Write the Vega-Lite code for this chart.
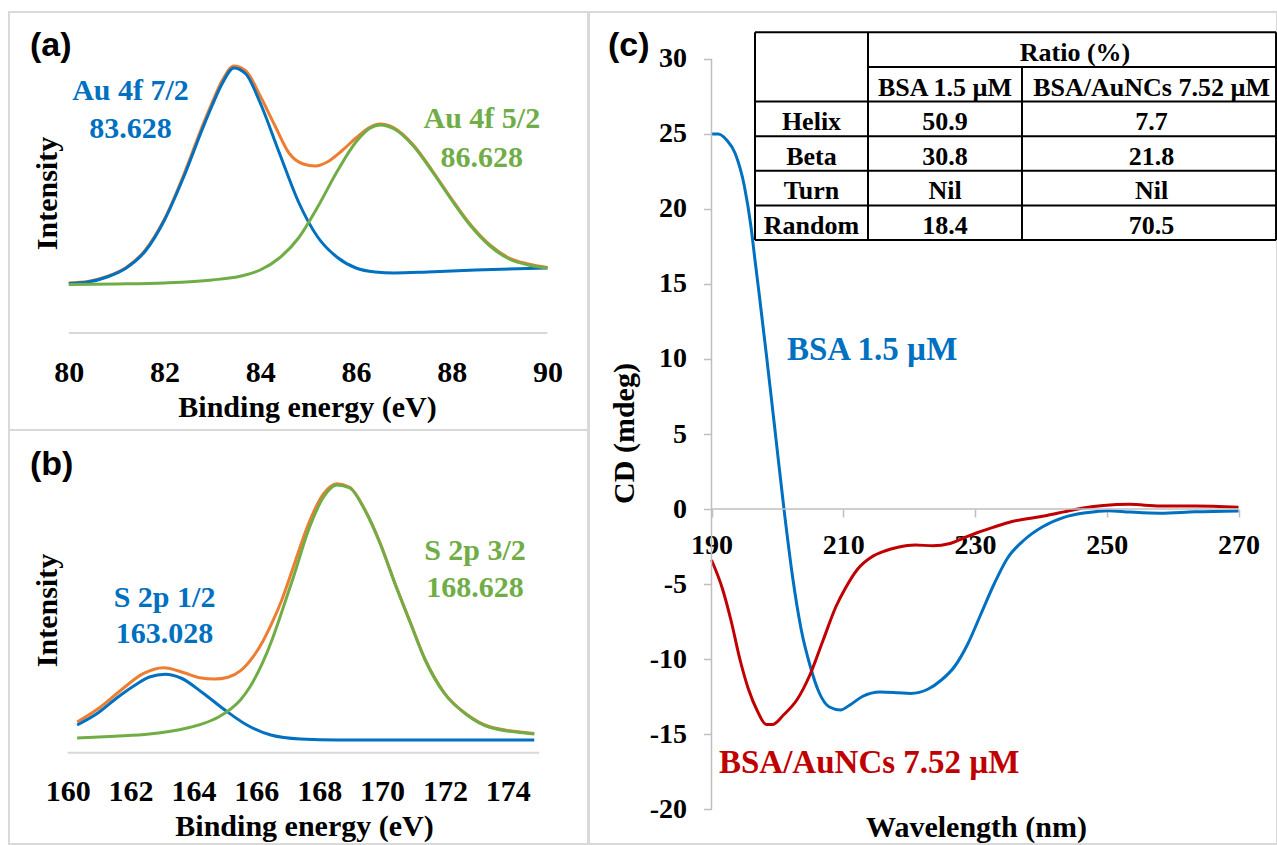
{
  "$schema": "https://vega.github.io/schema/vega-lite/v6.json",
  "background": "white",
  "padding": {"left": 8, "top": 11, "right": 0, "bottom": 0},
  "autosize": {"type": "pad"},
  "bounds": "full",
  "spacing": -2,
  "config": {
    "view": {"stroke": "#d9d9d9", "strokeWidth": 2},
    "axis": {"grid": false, "labelFont": "Liberation Serif, Times New Roman, Times, DejaVu Serif, serif", "labelFontWeight": "bold", "labelColor": "black", "titleFont": "Liberation Serif, Times New Roman, Times, DejaVu Serif, serif", "titleFontWeight": "bold", "titleColor": "black", "labelOverlap": false, "labelBound": false, "labelFlush": false},
    "text": {"font": "Liberation Serif, Times New Roman, Times, DejaVu Serif, serif", "fontWeight": "bold"}
  },
  "datasets": {
    "xpsA": [
      {"c": "env", "be": 80.0, "i": 500}, {"c": "env", "be": 80.4, "i": 515}, {"c": "env", "be": 80.8, "i": 565}, {"c": "env", "be": 81.2, "i": 655}, {"c": "env", "be": 81.6, "i": 830}, {"c": "env", "be": 82.0, "i": 1140}, {"c": "env", "be": 82.4, "i": 1580}, {"c": "env", "be": 82.8, "i": 2080}, {"c": "env", "be": 83.0, "i": 2310}, {"c": "env", "be": 83.2, "i": 2520}, {"c": "env", "be": 83.45, "i": 2670}, {"c": "env", "be": 83.7, "i": 2620}, {"c": "env", "be": 84.0, "i": 2370}, {"c": "env", "be": 84.3, "i": 2080}, {"c": "env", "be": 84.6, "i": 1800}, {"c": "env", "be": 84.9, "i": 1690}, {"c": "env", "be": 85.15, "i": 1670}, {"c": "env", "be": 85.4, "i": 1710}, {"c": "env", "be": 85.7, "i": 1820}, {"c": "env", "be": 86.0, "i": 1950}, {"c": "env", "be": 86.3, "i": 2060}, {"c": "env", "be": 86.5, "i": 2090}, {"c": "env", "be": 86.8, "i": 2050}, {"c": "env", "be": 87.2, "i": 1880}, {"c": "env", "be": 87.6, "i": 1620}, {"c": "env", "be": 88.0, "i": 1340}, {"c": "env", "be": 88.4, "i": 1080}, {"c": "env", "be": 88.8, "i": 880}, {"c": "env", "be": 89.2, "i": 750}, {"c": "env", "be": 89.6, "i": 690}, {"c": "env", "be": 90.0, "i": 655},
      {"c": "p1", "be": 80.0, "i": 495}, {"c": "p1", "be": 80.4, "i": 510}, {"c": "p1", "be": 80.8, "i": 560}, {"c": "p1", "be": 81.2, "i": 650}, {"c": "p1", "be": 81.6, "i": 820}, {"c": "p1", "be": 82.0, "i": 1130}, {"c": "p1", "be": 82.4, "i": 1560}, {"c": "p1", "be": 82.8, "i": 2050}, {"c": "p1", "be": 83.0, "i": 2280}, {"c": "p1", "be": 83.2, "i": 2490}, {"c": "p1", "be": 83.45, "i": 2650}, {"c": "p1", "be": 83.7, "i": 2590}, {"c": "p1", "be": 84.0, "i": 2300}, {"c": "p1", "be": 84.4, "i": 1800}, {"c": "p1", "be": 84.8, "i": 1310}, {"c": "p1", "be": 85.2, "i": 960}, {"c": "p1", "be": 85.6, "i": 760}, {"c": "p1", "be": 86.0, "i": 650}, {"c": "p1", "be": 86.4, "i": 610}, {"c": "p1", "be": 86.8, "i": 600}, {"c": "p1", "be": 87.5, "i": 610}, {"c": "p1", "be": 88.5, "i": 630}, {"c": "p1", "be": 90.0, "i": 650},
      {"c": "p2", "be": 80.0, "i": 485}, {"c": "p2", "be": 81.0, "i": 490}, {"c": "p2", "be": 82.0, "i": 500}, {"c": "p2", "be": 83.0, "i": 530}, {"c": "p2", "be": 83.6, "i": 570}, {"c": "p2", "be": 84.0, "i": 630}, {"c": "p2", "be": 84.4, "i": 750}, {"c": "p2", "be": 84.8, "i": 950}, {"c": "p2", "be": 85.2, "i": 1260}, {"c": "p2", "be": 85.6, "i": 1610}, {"c": "p2", "be": 86.0, "i": 1910}, {"c": "p2", "be": 86.3, "i": 2050}, {"c": "p2", "be": 86.5, "i": 2080}, {"c": "p2", "be": 86.8, "i": 2040}, {"c": "p2", "be": 87.2, "i": 1870}, {"c": "p2", "be": 87.6, "i": 1610}, {"c": "p2", "be": 88.0, "i": 1330}, {"c": "p2", "be": 88.4, "i": 1070}, {"c": "p2", "be": 88.8, "i": 870}, {"c": "p2", "be": 89.2, "i": 740}, {"c": "p2", "be": 89.6, "i": 680}, {"c": "p2", "be": 90.0, "i": 650}
    ],
    "xpsB": [
      {"c": "env", "be": 160.3, "i": 307}, {"c": "env", "be": 161.0, "i": 447}, {"c": "env", "be": 161.7, "i": 627}, {"c": "env", "be": 162.4, "i": 790}, {"c": "env", "be": 163.05, "i": 850}, {"c": "env", "be": 163.7, "i": 800}, {"c": "env", "be": 164.2, "i": 750}, {"c": "env", "be": 164.67, "i": 737}, {"c": "env", "be": 165.1, "i": 755}, {"c": "env", "be": 165.5, "i": 820}, {"c": "env", "be": 165.9, "i": 960}, {"c": "env", "be": 166.2, "i": 1110}, {"c": "env", "be": 166.5, "i": 1300}, {"c": "env", "be": 166.8, "i": 1520}, {"c": "env", "be": 167.18, "i": 1860}, {"c": "env", "be": 167.66, "i": 2290}, {"c": "env", "be": 168.14, "i": 2590}, {"c": "env", "be": 168.56, "i": 2690}, {"c": "env", "be": 168.97, "i": 2655}, {"c": "env", "be": 169.45, "i": 2432}, {"c": "env", "be": 169.93, "i": 2102}, {"c": "env", "be": 170.4, "i": 1702}, {"c": "env", "be": 170.9, "i": 1302}, {"c": "env", "be": 171.37, "i": 932}, {"c": "env", "be": 171.97, "i": 602}, {"c": "env", "be": 172.7, "i": 382}, {"c": "env", "be": 173.4, "i": 262}, {"c": "env", "be": 174.84, "i": 192},
      {"c": "p1", "be": 160.3, "i": 277}, {"c": "p1", "be": 160.96, "i": 397}, {"c": "p1", "be": 161.56, "i": 547}, {"c": "p1", "be": 162.15, "i": 677}, {"c": "p1", "be": 162.6, "i": 757}, {"c": "p1", "be": 163.1, "i": 784}, {"c": "p1", "be": 163.6, "i": 747}, {"c": "p1", "be": 164.3, "i": 597}, {"c": "p1", "be": 165.0, "i": 427}, {"c": "p1", "be": 165.7, "i": 277}, {"c": "p1", "be": 166.46, "i": 177}, {"c": "p1", "be": 167.4, "i": 137}, {"c": "p1", "be": 168.6, "i": 127}, {"c": "p1", "be": 171.0, "i": 127}, {"c": "p1", "be": 174.84, "i": 127},
      {"c": "p2", "be": 160.3, "i": 147}, {"c": "p2", "be": 161.5, "i": 165}, {"c": "p2", "be": 162.6, "i": 187}, {"c": "p2", "be": 163.8, "i": 247}, {"c": "p2", "be": 164.3, "i": 290}, {"c": "p2", "be": 164.8, "i": 357}, {"c": "p2", "be": 165.2, "i": 440}, {"c": "p2", "be": 165.5, "i": 530}, {"c": "p2", "be": 165.8, "i": 660}, {"c": "p2", "be": 166.2, "i": 900}, {"c": "p2", "be": 166.5, "i": 1130}, {"c": "p2", "be": 166.8, "i": 1400}, {"c": "p2", "be": 167.18, "i": 1757}, {"c": "p2", "be": 167.66, "i": 2227}, {"c": "p2", "be": 168.14, "i": 2557}, {"c": "p2", "be": 168.56, "i": 2677}, {"c": "p2", "be": 168.97, "i": 2647}, {"c": "p2", "be": 169.45, "i": 2427}, {"c": "p2", "be": 169.93, "i": 2097}, {"c": "p2", "be": 170.4, "i": 1697}, {"c": "p2", "be": 170.9, "i": 1297}, {"c": "p2", "be": 171.37, "i": 927}, {"c": "p2", "be": 171.97, "i": 597}, {"c": "p2", "be": 172.7, "i": 377}, {"c": "p2", "be": 173.4, "i": 257}, {"c": "p2", "be": 174.84, "i": 187}
    ],
    "cd": [
      {"s": "BSA 1.5 µM", "wl": 190, "cd": 25.0}, {"s": "BSA 1.5 µM", "wl": 191, "cd": 25.0}, {"s": "BSA 1.5 µM", "wl": 192.3, "cd": 24.6}, {"s": "BSA 1.5 µM", "wl": 193.6, "cd": 23.7}, {"s": "BSA 1.5 µM", "wl": 195.0, "cd": 21.5}, {"s": "BSA 1.5 µM", "wl": 196.0, "cd": 18.8}, {"s": "BSA 1.5 µM", "wl": 196.6, "cd": 16.6}, {"s": "BSA 1.5 µM", "wl": 197.3, "cd": 14.1}, {"s": "BSA 1.5 µM", "wl": 198.3, "cd": 10.4}, {"s": "BSA 1.5 µM", "wl": 199.6, "cd": 5.4}, {"s": "BSA 1.5 µM", "wl": 201.0, "cd": 0}, {"s": "BSA 1.5 µM", "wl": 202.3, "cd": -4.5}, {"s": "BSA 1.5 µM", "wl": 203.6, "cd": -8.0}, {"s": "BSA 1.5 µM", "wl": 205.0, "cd": -10.5}, {"s": "BSA 1.5 µM", "wl": 206.3, "cd": -12.2}, {"s": "BSA 1.5 µM", "wl": 207.9, "cd": -13.2}, {"s": "BSA 1.5 µM", "wl": 209.6, "cd": -13.4}, {"s": "BSA 1.5 µM", "wl": 210.9, "cd": -13.1}, {"s": "BSA 1.5 µM", "wl": 212.9, "cd": -12.5}, {"s": "BSA 1.5 µM", "wl": 215.6, "cd": -12.2}, {"s": "BSA 1.5 µM", "wl": 218.3, "cd": -12.25}, {"s": "BSA 1.5 µM", "wl": 220.2, "cd": -12.3}, {"s": "BSA 1.5 µM", "wl": 222.9, "cd": -12.0}, {"s": "BSA 1.5 µM", "wl": 224.9, "cd": -11.4}, {"s": "BSA 1.5 µM", "wl": 226.9, "cd": -10.5}, {"s": "BSA 1.5 µM", "wl": 228.9, "cd": -9.0}, {"s": "BSA 1.5 µM", "wl": 230.9, "cd": -7.0}, {"s": "BSA 1.5 µM", "wl": 232.9, "cd": -5.0}, {"s": "BSA 1.5 µM", "wl": 234.9, "cd": -3.3}, {"s": "BSA 1.5 µM", "wl": 237.5, "cd": -2.05}, {"s": "BSA 1.5 µM", "wl": 240.2, "cd": -1.2}, {"s": "BSA 1.5 µM", "wl": 243.5, "cd": -0.56}, {"s": "BSA 1.5 µM", "wl": 246.9, "cd": -0.25}, {"s": "BSA 1.5 µM", "wl": 250.2, "cd": -0.11}, {"s": "BSA 1.5 µM", "wl": 253.5, "cd": -0.2}, {"s": "BSA 1.5 µM", "wl": 258.1, "cd": -0.28}, {"s": "BSA 1.5 µM", "wl": 263.4, "cd": -0.19}, {"s": "BSA 1.5 µM", "wl": 270, "cd": -0.13},
      {"s": "BSA/AuNCs 7.52 µM", "wl": 190.0, "cd": -3.4}, {"s": "BSA/AuNCs 7.52 µM", "wl": 191.65, "cd": -5.3}, {"s": "BSA/AuNCs 7.52 µM", "wl": 193.0, "cd": -7.5}, {"s": "BSA/AuNCs 7.52 µM", "wl": 194.3, "cd": -10.0}, {"s": "BSA/AuNCs 7.52 µM", "wl": 195.6, "cd": -12.0}, {"s": "BSA/AuNCs 7.52 µM", "wl": 197.0, "cd": -13.5}, {"s": "BSA/AuNCs 7.52 µM", "wl": 198.3, "cd": -14.36}, {"s": "BSA/AuNCs 7.52 µM", "wl": 199.3, "cd": -14.36}, {"s": "BSA/AuNCs 7.52 µM", "wl": 201.0, "cd": -13.7}, {"s": "BSA/AuNCs 7.52 µM", "wl": 203.0, "cd": -12.7}, {"s": "BSA/AuNCs 7.52 µM", "wl": 205.0, "cd": -11.0}, {"s": "BSA/AuNCs 7.52 µM", "wl": 206.9, "cd": -8.8}, {"s": "BSA/AuNCs 7.52 µM", "wl": 208.9, "cd": -6.5}, {"s": "BSA/AuNCs 7.52 µM", "wl": 210.3, "cd": -5.3}, {"s": "BSA/AuNCs 7.52 µM", "wl": 212.2, "cd": -4.0}, {"s": "BSA/AuNCs 7.52 µM", "wl": 214.3, "cd": -3.2}, {"s": "BSA/AuNCs 7.52 µM", "wl": 216.3, "cd": -2.8}, {"s": "BSA/AuNCs 7.52 µM", "wl": 218.3, "cd": -2.55}, {"s": "BSA/AuNCs 7.52 µM", "wl": 220.9, "cd": -2.4}, {"s": "BSA/AuNCs 7.52 µM", "wl": 223.6, "cd": -2.45}, {"s": "BSA/AuNCs 7.52 µM", "wl": 226.2, "cd": -2.3}, {"s": "BSA/AuNCs 7.52 µM", "wl": 228.2, "cd": -1.95}, {"s": "BSA/AuNCs 7.52 µM", "wl": 230.2, "cd": -1.6}, {"s": "BSA/AuNCs 7.52 µM", "wl": 232.9, "cd": -1.2}, {"s": "BSA/AuNCs 7.52 µM", "wl": 235.5, "cd": -0.85}, {"s": "BSA/AuNCs 7.52 µM", "wl": 238.2, "cd": -0.63}, {"s": "BSA/AuNCs 7.52 µM", "wl": 240.9, "cd": -0.43}, {"s": "BSA/AuNCs 7.52 µM", "wl": 243.5, "cd": -0.19}, {"s": "BSA/AuNCs 7.52 µM", "wl": 246.2, "cd": 0.05}, {"s": "BSA/AuNCs 7.52 µM", "wl": 249.5, "cd": 0.24}, {"s": "BSA/AuNCs 7.52 µM", "wl": 253.5, "cd": 0.31}, {"s": "BSA/AuNCs 7.52 µM", "wl": 258.1, "cd": 0.2}, {"s": "BSA/AuNCs 7.52 µM", "wl": 263.4, "cd": 0.2}, {"s": "BSA/AuNCs 7.52 µM", "wl": 270, "cd": 0.11}
    ],
    "table": [
      {"r": 2, "feature": "", "bsa": "BSA 1.5 µM", "aunc": "BSA/AuNCs 7.52 µM"},
      {"r": 3, "feature": "Helix", "bsa": "50.9", "aunc": "7.7"},
      {"r": 4, "feature": "Beta", "bsa": "30.8", "aunc": "21.8"},
      {"r": 5, "feature": "Turn", "bsa": "Nil", "aunc": "Nil"},
      {"r": 6, "feature": "Random", "bsa": "18.4", "aunc": "70.5"}
    ],
    "hlines": [{"k": 0}, {"k": 2}, {"k": 3}, {"k": 4}, {"k": 5}, {"k": 6}]
  },
  "hconcat": [
    {
      "vconcat": [
        {
          "width": 579, "height": 418,
          "layer": [
            {"data": {"name": "xpsA"}, "transform": [{"filter": "datum.c === 'env'"}],
             "mark": {"type": "line", "color": "#ED7D31", "strokeWidth": 3, "interpolate": "monotone"},
             "encoding": {
               "x": {"field": "be", "type": "quantitative", "scale": {"domain": [78.751, 90.848], "nice": false, "zero": false},
                     "axis": {"values": [80, 82, 84, 86, 88, 90], "offset": -97, "domain": false, "ticks": false, "tickSize": 0, "labelPadding": 24, "labelFontSize": 30, "title": "Binding energy (eV)", "titleFontSize": 30, "titleX": 298, "titleY": 83, "titleBaseline": "alphabetic", "titleAlign": "center"}},
               "y": {"field": "i", "type": "quantitative", "scale": {"domain": [-970, 3210], "nice": false, "zero": false},
                     "axis": {"domain": false, "ticks": false, "labels": false, "title": "Intensity", "titleFontSize": 30, "titleX": 47, "titleY": 181, "titleBaseline": "alphabetic", "titleAngle": -90, "titleAlign": "center"}}
             }},
            {"data": {"name": "xpsA"}, "transform": [{"filter": "datum.c === 'p1'"}],
             "mark": {"type": "line", "color": "#0070C0", "strokeWidth": 3, "interpolate": "monotone"},
             "encoding": {"x": {"field": "be", "type": "quantitative"}, "y": {"field": "i", "type": "quantitative"}}},
            {"data": {"name": "xpsA"}, "transform": [{"filter": "datum.c === 'p2'"}],
             "mark": {"type": "line", "color": "#70AD47", "strokeWidth": 3, "interpolate": "monotone"},
             "encoding": {"x": {"field": "be", "type": "quantitative"}, "y": {"field": "i", "type": "quantitative"}}},
            {"data": {"values": [{}]}, "mark": {"type": "rule", "color": "#d9d9d9", "strokeWidth": 2},
             "encoding": {"x": {"datum": 80, "type": "quantitative"}, "x2": {"datum": 90}, "y": {"datum": 0, "type": "quantitative"}}},
            {"data": {"values": [{}]}, "mark": {"type": "text", "text": "(a)", "font": "Liberation Sans, Arial, sans-serif", "fontWeight": "bold", "fontSize": 34, "align": "left", "baseline": "alphabetic", "color": "black"},
             "encoding": {"x": {"datum": 79.19, "type": "quantitative"}, "y": {"datum": 2770, "type": "quantitative"}}},
            {"data": {"values": [{}]}, "mark": {"type": "text", "text": ["Au 4f 7/2", "83.628"], "lineHeight": 38, "fontSize": 30, "align": "center", "baseline": "alphabetic", "color": "#0070C0"},
             "encoding": {"x": {"datum": 81.29, "type": "quantitative"}, "y": {"datum": 2330, "type": "quantitative"}}},
            {"data": {"values": [{}]}, "mark": {"type": "text", "text": ["Au 4f 5/2", "86.628"], "lineHeight": 39, "fontSize": 30, "align": "center", "baseline": "alphabetic", "color": "#70AD47"},
             "encoding": {"x": {"datum": 88.63, "type": "quantitative"}, "y": {"datum": 2050, "type": "quantitative"}}}
          ]
        },
        {
          "width": 579, "height": 414,
          "layer": [
            {"data": {"name": "xpsB"}, "transform": [{"filter": "datum.c === 'env'"}],
             "mark": {"type": "line", "color": "#ED7D31", "strokeWidth": 3, "interpolate": "monotone"},
             "encoding": {
               "x": {"field": "be", "type": "quantitative", "scale": {"domain": [158.133, 176.549], "nice": false, "zero": false},
                     "axis": {"values": [160, 162, 164, 166, 168, 170, 172, 174], "offset": -91.3, "domain": false, "ticks": false, "tickSize": 0, "labelPadding": 24, "labelFontSize": 30, "title": "Binding energy (eV)", "titleFontSize": 30, "titleX": 295, "titleY": 83, "titleBaseline": "alphabetic", "titleAlign": "center"}},
               "y": {"field": "i", "type": "quantitative", "scale": {"domain": [-913, 3227], "nice": false, "zero": false},
                     "axis": {"domain": false, "ticks": false, "labels": false, "title": "Intensity", "titleFontSize": 30, "titleX": 47, "titleY": 180, "titleBaseline": "alphabetic", "titleAngle": -90, "titleAlign": "center"}}
             }},
            {"data": {"name": "xpsB"}, "transform": [{"filter": "datum.c === 'p1'"}],
             "mark": {"type": "line", "color": "#0070C0", "strokeWidth": 3, "interpolate": "monotone"},
             "encoding": {"x": {"field": "be", "type": "quantitative"}, "y": {"field": "i", "type": "quantitative"}}},
            {"data": {"name": "xpsB"}, "transform": [{"filter": "datum.c === 'p2'"}],
             "mark": {"type": "line", "color": "#70AD47", "strokeWidth": 3, "interpolate": "monotone"},
             "encoding": {"x": {"field": "be", "type": "quantitative"}, "y": {"field": "i", "type": "quantitative"}}},
            {"data": {"values": [{}]}, "mark": {"type": "rule", "color": "#d9d9d9", "strokeWidth": 2},
             "encoding": {"x": {"datum": 160, "type": "quantitative"}, "x2": {"datum": 175}, "y": {"datum": 0, "type": "quantitative"}}},
            {"data": {"values": [{}]}, "mark": {"type": "text", "text": "(b)", "font": "Liberation Sans, Arial, sans-serif", "fontWeight": "bold", "fontSize": 34, "align": "left", "baseline": "alphabetic", "color": "black"},
             "encoding": {"x": {"datum": 158.80, "type": "quantitative"}, "y": {"datum": 2777, "type": "quantitative"}}},
            {"data": {"values": [{}]}, "mark": {"type": "text", "text": ["S 2p 1/2", "163.028"], "lineHeight": 36, "fontSize": 30, "align": "center", "baseline": "alphabetic", "color": "#0070C0"},
             "encoding": {"x": {"datum": 163.08, "type": "quantitative"}, "y": {"datum": 1457, "type": "quantitative"}}},
            {"data": {"values": [{}]}, "mark": {"type": "text", "text": ["S 2p 3/2", "168.628"], "lineHeight": 37, "fontSize": 30, "align": "center", "baseline": "alphabetic", "color": "#70AD47"},
             "encoding": {"x": {"datum": 172.955, "type": "quantitative"}, "y": {"datum": 1927, "type": "quantitative"}}}
          ]
        }
      ],
      "spacing": 0,
      "bounds": "flush"
    },
    {
      "width": 688, "height": 832,
      "layer": [
        {
          "layer": [
            {"data": {"name": "cd"},
             "mark": {"type": "line", "strokeWidth": 3, "interpolate": "monotone"},
             "encoding": {
               "x": {"field": "wl", "type": "quantitative", "scale": {"domain": [171.404, 275.844], "nice": false, "zero": false},
                     "axis": {"values": [190, 210, 230, 250, 270], "offset": -335, "domain": false, "tickColor": "#bfbfbf", "tickWidth": 1.5, "tickSize": 8, "labelPadding": 14, "labelFontSize": 28, "title": "Wavelength (nm)", "titleFontSize": 30, "titleX": 387, "titleY": 327, "titleBaseline": "alphabetic", "titleAlign": "center"}},
               "y": {"field": "cd", "type": "quantitative", "scale": {"domain": [-22.333, 33.133], "nice": false, "zero": false},
                     "axis": {"values": [-20, -15, -10, -5, 0, 5, 10, 15, 20, 25, 30], "labelExpr": "'' + datum.value", "offset": -122.5, "domain": false, "tickColor": "#bfbfbf", "tickWidth": 1.5, "tickSize": 8, "labelPadding": 17, "labelFontSize": 28, "title": "CD (mdeg)", "titleFontSize": 30, "titleX": -78.5, "titleY": 421, "titleBaseline": "alphabetic", "titleAngle": -90, "titleAlign": "center"}},
               "color": {"field": "s", "type": "nominal", "scale": {"domain": ["BSA 1.5 µM", "BSA/AuNCs 7.52 µM"], "range": ["#0070C0", "#C00000"]}, "legend": null}
             }},
            {"data": {"values": [{}]}, "mark": {"type": "rule", "color": "#bfbfbf", "strokeWidth": 1.5},
             "encoding": {"x": {"datum": 190, "type": "quantitative"}, "y": {"datum": -20, "type": "quantitative"}, "y2": {"datum": 30}}},
            {"data": {"values": [{}]}, "mark": {"type": "rule", "color": "#bfbfbf", "strokeWidth": 1.5},
             "encoding": {"x": {"datum": 190, "type": "quantitative"}, "x2": {"datum": 270}, "y": {"datum": 0, "type": "quantitative"}}},
            {"data": {"values": [{}]}, "mark": {"type": "text", "text": "(c)", "font": "Liberation Sans, Arial, sans-serif", "fontWeight": "bold", "fontSize": 34, "align": "left", "baseline": "alphabetic", "color": "black"},
             "encoding": {"x": {"datum": 174.29, "type": "quantitative"}, "y": {"datum": 30.2, "type": "quantitative"}}},
            {"data": {"values": [{}]}, "mark": {"type": "text", "text": "BSA 1.5 µM", "fontSize": 33, "align": "left", "baseline": "alphabetic", "color": "#0070C0"},
             "encoding": {"x": {"datum": 201.46, "type": "quantitative"}, "y": {"datum": 9.93, "type": "quantitative"}}},
            {"data": {"values": [{}]}, "mark": {"type": "text", "text": "BSA/AuNCs 7.52 µM", "fontSize": 33, "align": "left", "baseline": "alphabetic", "color": "#C00000"},
             "encoding": {"x": {"datum": 191.14, "type": "quantitative"}, "y": {"datum": -17.6, "type": "quantitative"}}}
          ]
        },
        {
          "layer": [
            {"data": {"name": "hlines"}, "mark": {"type": "rule", "color": "black", "strokeWidth": 2},
             "encoding": {"x": {"datum": 196.6, "type": "quantitative"}, "x2": {"datum": 275.7},
                          "y": {"field": "k", "type": "quantitative", "scale": {"domain": [-0.586, 23.446], "reverse": true, "nice": false, "zero": false}, "axis": null}}},
            {"data": {"values": [{}]}, "mark": {"type": "rule", "color": "black", "strokeWidth": 2},
             "encoding": {"x": {"datum": 213.76, "type": "quantitative"}, "x2": {"datum": 275.7},
                          "y": {"datum": 1, "type": "quantitative", "scale": {"domain": [-0.586, 23.446], "reverse": true, "nice": false, "zero": false}, "axis": null}}},
            {"data": {"values": [{}]}, "mark": {"type": "rule", "color": "black", "strokeWidth": 2},
             "encoding": {"x": {"datum": 196.6, "type": "quantitative"},
                          "y": {"datum": 0, "type": "quantitative", "scale": {"domain": [-0.586, 23.446], "reverse": true, "nice": false, "zero": false}, "axis": null}, "y2": {"datum": 6}}},
            {"data": {"values": [{}]}, "mark": {"type": "rule", "color": "black", "strokeWidth": 2},
             "encoding": {"x": {"datum": 213.76, "type": "quantitative"},
                          "y": {"datum": 0, "type": "quantitative", "scale": {"domain": [-0.586, 23.446], "reverse": true, "nice": false, "zero": false}, "axis": null}, "y2": {"datum": 6}}},
            {"data": {"values": [{}]}, "mark": {"type": "rule", "color": "black", "strokeWidth": 2},
             "encoding": {"x": {"datum": 237.13, "type": "quantitative"},
                          "y": {"datum": 1, "type": "quantitative", "scale": {"domain": [-0.586, 23.446], "reverse": true, "nice": false, "zero": false}, "axis": null}, "y2": {"datum": 6}}},
            {"data": {"values": [{}]}, "mark": {"type": "rule", "color": "black", "strokeWidth": 2},
             "encoding": {"x": {"datum": 275.7, "type": "quantitative"},
                          "y": {"datum": 0, "type": "quantitative", "scale": {"domain": [-0.586, 23.446], "reverse": true, "nice": false, "zero": false}, "axis": null}, "y2": {"datum": 6}}},
            {"data": {"values": [{}]}, "mark": {"type": "text", "text": "Ratio (%)", "fontSize": 26, "align": "center", "baseline": "alphabetic", "dy": -6, "color": "black"},
             "encoding": {"x": {"datum": 245.18, "type": "quantitative"},
                          "y": {"datum": 1, "type": "quantitative", "scale": {"domain": [-0.586, 23.446], "reverse": true, "nice": false, "zero": false}, "axis": null}}},
            {"data": {"name": "table"}, "mark": {"type": "text", "fontSize": 26, "align": "center", "baseline": "alphabetic", "dy": -6, "color": "black"},
             "encoding": {"x": {"datum": 205.18, "type": "quantitative"},
                          "y": {"field": "r", "type": "quantitative", "scale": {"domain": [-0.586, 23.446], "reverse": true, "nice": false, "zero": false}, "axis": null},
                          "text": {"field": "feature"}}},
            {"data": {"name": "table"}, "mark": {"type": "text", "fontSize": 26, "align": "center", "baseline": "alphabetic", "dy": -6, "color": "black"},
             "encoding": {"x": {"datum": 225.45, "type": "quantitative"},
                          "y": {"field": "r", "type": "quantitative", "scale": {"domain": [-0.586, 23.446], "reverse": true, "nice": false, "zero": false}, "axis": null},
                          "text": {"field": "bsa"}}},
            {"data": {"name": "table"}, "mark": {"type": "text", "fontSize": 26, "align": "center", "baseline": "alphabetic", "dy": -6, "color": "black"},
             "encoding": {"x": {"datum": 256.8, "type": "quantitative"},
                          "y": {"field": "r", "type": "quantitative", "scale": {"domain": [-0.586, 23.446], "reverse": true, "nice": false, "zero": false}, "axis": null},
                          "text": {"field": "aunc"}}}
          ]
        }
      ],
      "resolve": {"scale": {"y": "independent"}}
    }
  ]
}
